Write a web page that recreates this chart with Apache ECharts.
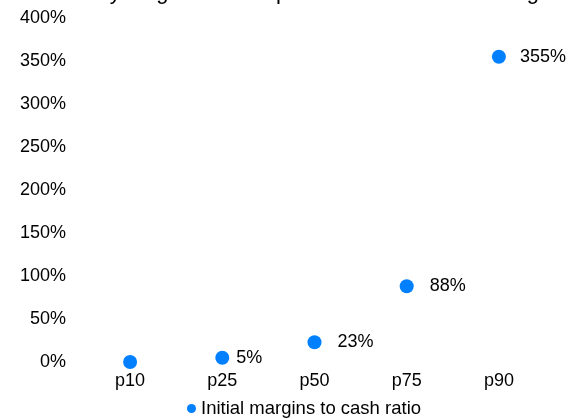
<!DOCTYPE html>
<html><head><meta charset="utf-8">
<script src="https://cdn.jsdelivr.net/npm/echarts@6/dist/echarts.min.js"></script>
<style>html,body{margin:0;padding:0;background:#fff}#c{width:569px;height:419px}</style>
</head><body><div id="c"></div>
<script>
const titleText = "Many long-dated swap books lack cash for margin";
const categories = ["p10", "p25", "p50", "p75", "p90"];
const seriesName = "Initial margins to cash ratio";
const values = [0, 5, 23, 88, 355];
const showLabel = [false, true, true, true, true];
const yTicks = { min: 0, max: 400, interval: 50 };
const labelGap = [16, 7, 16, 16, 14];

const font = "'Liberation Sans', Arial, sans-serif";
const chart = echarts.init(document.getElementById('c'), null, { renderer: 'canvas' });
chart.setOption({
  animation: false,
  textStyle: { fontFamily: font },
  title: {
    text: titleText, left: 62, top: -23, padding: 5,
    textStyle: { fontFamily: font, fontSize: 22, fontWeight: 'normal', color: '#000' }
  },
  grid: { left: 84, right: 24, top: 18, bottom: 57, containLabel: false },
  legend: {
    bottom: 1, left: 187, itemWidth: 9, itemHeight: 9, itemGap: 4, padding: 0,
    icon: 'circle',
    textStyle: { fontFamily: font, fontSize: 18.5, color: '#000', padding: [0, 0, 0, 0] },
    data: [seriesName]
  },
  xAxis: {
    type: 'category', data: categories, boundaryGap: true,
    axisLine: { show: false }, axisTick: { show: false }, splitLine: { show: false },
    axisLabel: { fontFamily: font, fontSize: 18, color: '#000', margin: 10 }
  },
  yAxis: {
    type: 'value', min: yTicks.min, max: yTicks.max, interval: yTicks.interval,
    axisLine: { show: false }, axisTick: { show: false }, splitLine: { show: false },
    axisLabel: { fontFamily: font, fontSize: 18, color: '#000', margin: 18, formatter: v => v + '%' }
  },
  series: [{
    name: seriesName, type: 'scatter', symbol: 'circle', symbolSize: 14,
    itemStyle: { color: '#0080ff', opacity: 1 },
    data: values.map((v, i) => ({
      value: v,
      label: {
        show: showLabel[i], position: 'right', distance: labelGap[i],
        formatter: p => p.value + '%',
        fontFamily: font, fontSize: 18, color: '#000', opacity: 1
      }
    }))
  }]
});
</script></body></html>
